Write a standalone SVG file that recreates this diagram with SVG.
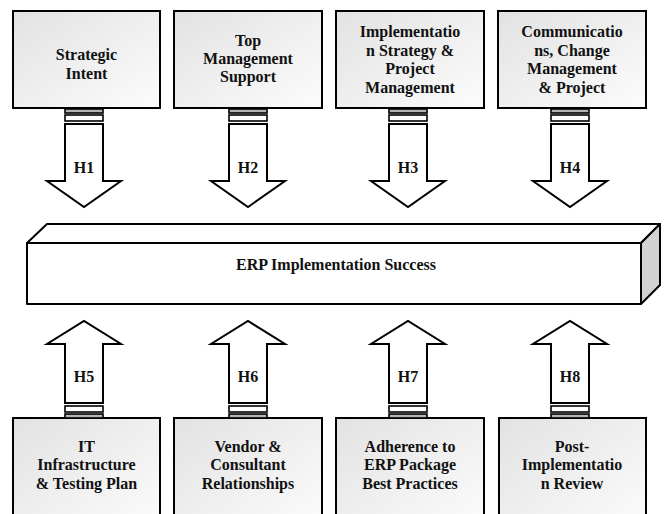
<svg xmlns="http://www.w3.org/2000/svg" width="664" height="514" viewBox="0 0 664 514">
  <defs>
    <linearGradient id="boxFill" x1="0" y1="0" x2="1" y2="1">
      <stop offset="0" stop-color="#e2e2e2"/>
      <stop offset="1" stop-color="#fcfcfc"/>
    </linearGradient>
    <style>
      .box { fill: url(#boxFill); stroke: #000; stroke-width: 2; }
      .lbl { font-family: "Liberation Serif", "Times New Roman", serif; font-weight: bold; font-size: 16px; fill: #111; text-anchor: middle; }
      .arrow { fill: #fff; stroke: #000; stroke-width: 2; stroke-linejoin: miter; }
      .ring { fill: #fff; stroke: #000; stroke-width: 1.6; }
      .collar { fill: #b4b4b4; stroke: #000; stroke-width: 1.6; }
      .bar { fill: #fff; stroke: #000; stroke-width: 2; stroke-linejoin: round; }
      .barSide { fill: #d2d2d2; stroke: #000; stroke-width: 2; stroke-linejoin: round; }
    </style>
  </defs>

  <!-- central outcome: 3D bar -->
  <g id="erp-success">
    <polygon class="bar" points="27,243 47,224 660,224 641,243"/>
    <polygon class="barSide" points="641,243 660,224 660,285 641,304"/>
    <rect class="bar" x="27" y="243" width="614" height="61"/>
    <text class="lbl" x="336" y="270">ERP Implementation Success</text>
  </g>

  <!-- top factor boxes -->
  <g id="strategic-intent">
    <rect class="box" x="13" y="11" width="147" height="97"/>
    <text class="lbl" x="86.5" y="60">Strategic</text>
    <text class="lbl" x="86.5" y="79">Intent</text>
  </g>
  <g id="top-management-support">
    <rect class="box" x="174" y="11" width="148" height="97"/>
    <text class="lbl" x="248" y="46">Top</text>
    <text class="lbl" x="248" y="64">Management</text>
    <text class="lbl" x="248" y="82">Support</text>
  </g>
  <g id="implementation-strategy">
    <rect class="box" x="336" y="11" width="148" height="97"/>
    <text class="lbl" x="410" y="37">Implementatio</text>
    <text class="lbl" x="410" y="55.5">n Strategy &amp;</text>
    <text class="lbl" x="410" y="74">Project</text>
    <text class="lbl" x="410" y="92.5">Management</text>
  </g>
  <g id="communications-change">
    <rect class="box" x="498" y="11" width="148" height="97"/>
    <text class="lbl" x="572" y="37">Communicatio</text>
    <text class="lbl" x="572" y="55.5">ns, Change</text>
    <text class="lbl" x="572" y="74">Management</text>
    <text class="lbl" x="572" y="92.5">&amp; Project</text>
  </g>

  <!-- bottom factor boxes (run off the lower edge) -->
  <g id="it-infrastructure">
    <rect class="box" x="13" y="418" width="147" height="110"/>
    <text class="lbl" x="86.5" y="452">IT</text>
    <text class="lbl" x="86.5" y="470">Infrastructure</text>
    <text class="lbl" x="86.5" y="488.5">&amp; Testing Plan</text>
  </g>
  <g id="vendor-consultant">
    <rect class="box" x="174" y="418" width="148" height="110"/>
    <text class="lbl" x="248" y="452">Vendor &amp;</text>
    <text class="lbl" x="248" y="470">Consultant</text>
    <text class="lbl" x="248" y="488.5">Relationships</text>
  </g>
  <g id="best-practices">
    <rect class="box" x="336" y="418" width="148" height="110"/>
    <text class="lbl" x="410" y="452">Adherence to</text>
    <text class="lbl" x="410" y="470">ERP Package</text>
    <text class="lbl" x="410" y="488.5">Best Practices</text>
  </g>
  <g id="post-implementation-review">
    <rect class="box" x="499" y="418" width="147" height="110"/>
    <text class="lbl" x="572" y="452">Post-</text>
    <text class="lbl" x="572" y="470">Implementatio</text>
    <text class="lbl" x="572" y="488.5">n Review</text>
  </g>

  <!-- hypothesis arrows -->
  <g id="connectors">
    <!-- H1..H4: downward block arrows -->
    <g id="h1">
      <rect class="collar" x="65" y="109" width="38" height="4"/>
      <rect class="ring" x="65" y="115" width="38" height="6"/>
      <path class="arrow" d="M65,124 H103 V181 H121 L84,207 L47,181 H65 Z"/>
      <text class="lbl" x="84" y="173">H1</text>
    </g>
    <g id="h2">
      <rect class="collar" x="229" y="109" width="38" height="4"/>
      <rect class="ring" x="229" y="115" width="38" height="6"/>
      <path class="arrow" d="M229,124 H267 V181 H285 L248,207 L211,181 H229 Z"/>
      <text class="lbl" x="248" y="173">H2</text>
    </g>
    <g id="h3">
      <rect class="collar" x="389" y="109" width="38" height="4"/>
      <rect class="ring" x="389" y="115" width="38" height="6"/>
      <path class="arrow" d="M389,124 H427 V181 H445 L408,207 L371,181 H389 Z"/>
      <text class="lbl" x="408" y="173">H3</text>
    </g>
    <g id="h4">
      <rect class="collar" x="551" y="109" width="38" height="4"/>
      <rect class="ring" x="551" y="115" width="38" height="6"/>
      <path class="arrow" d="M551,124 H589 V181 H607 L570,207 L533,181 H551 Z"/>
      <text class="lbl" x="570" y="173">H4</text>
    </g>

    <!-- H5..H8: upward block arrows -->
    <g id="h5">
      <rect class="collar" x="65" y="414" width="38" height="4"/>
      <rect class="ring" x="65" y="406" width="38" height="6"/>
      <path class="arrow" d="M65,403 H103 V344 H121 L84,321 L47,344 H65 Z"/>
      <text class="lbl" x="84" y="382">H5</text>
    </g>
    <g id="h6">
      <rect class="collar" x="229" y="414" width="38" height="4"/>
      <rect class="ring" x="229" y="406" width="38" height="6"/>
      <path class="arrow" d="M229,403 H267 V344 H285 L248,321 L211,344 H229 Z"/>
      <text class="lbl" x="248" y="382">H6</text>
    </g>
    <g id="h7">
      <rect class="collar" x="389" y="414" width="38" height="4"/>
      <rect class="ring" x="389" y="406" width="38" height="6"/>
      <path class="arrow" d="M389,403 H427 V344 H445 L408,321 L371,344 H389 Z"/>
      <text class="lbl" x="408" y="382">H7</text>
    </g>
    <g id="h8">
      <rect class="collar" x="551" y="414" width="38" height="4"/>
      <rect class="ring" x="551" y="406" width="38" height="6"/>
      <path class="arrow" d="M551,403 H589 V344 H607 L570,321 L533,344 H551 Z"/>
      <text class="lbl" x="570" y="382">H8</text>
    </g>
  </g>
</svg>
